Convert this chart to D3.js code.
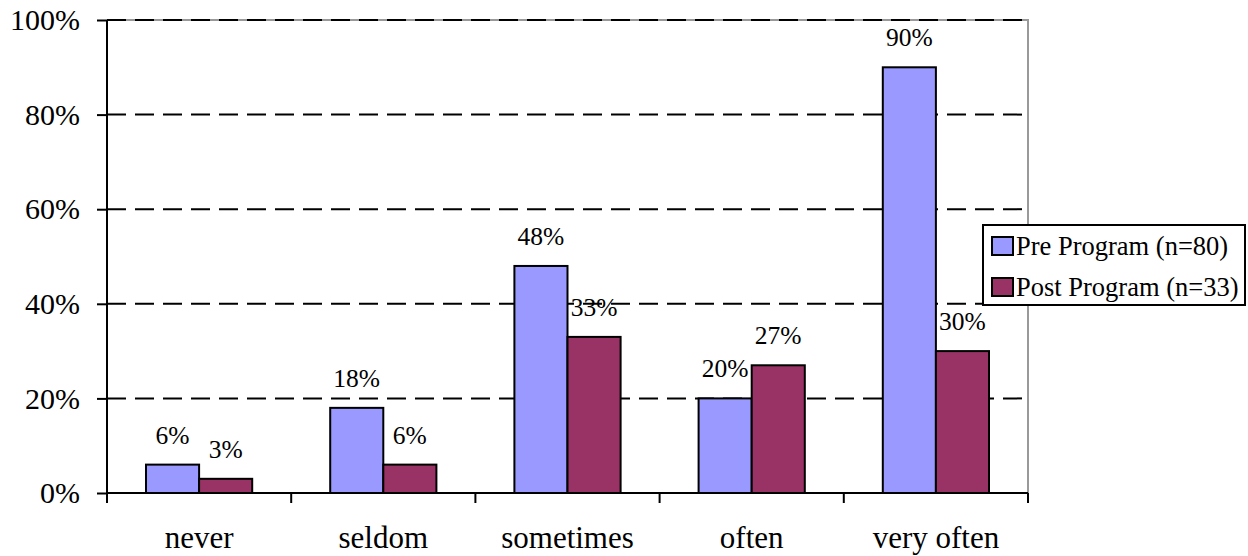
<!DOCTYPE html>
<html>
<head>
<meta charset="utf-8">
<script src="https://cdn.jsdelivr.net/npm/d3@7"></script>
<style>
  body { margin: 0; background: #fff; }
</style>
</head>
<body>
<div id="chart"></div>
<script>
const categories = ['never', 'seldom', 'sometimes', 'often', 'very often'];
const seriesNames = ['Pre Program (n=80)', 'Post Program (n=33)'];
const preValues = [6, 18, 48, 20, 90];
const postValues = [3, 6, 33, 27, 30];
const yTicks = [0, 20, 40, 60, 80, 100];
const colors = ['#9999FF', '#993366'];

const FONT = 'Liberation Serif, Times New Roman, Times, DejaVu Serif, serif';
const width = 1248, height = 556;
const margin = { top: 20, left: 107 };
const plotW = 1028 - margin.left;
const plotH = 493 - margin.top;

const svg = d3.select('#chart').append('svg')
    .attr('width', width)
    .attr('height', height)
    .style('display', 'block')
    .attr('font-family', FONT);

const g = svg.append('g').attr('transform', `translate(${margin.left},${margin.top})`);

const x = d3.scaleBand().domain(categories).range([0, plotW]);
const xInner = d3.scaleBand().domain([0, 1]).range([39, x.bandwidth() - 39]);
const y = d3.scaleLinear().domain([0, 100]).range([plotH, 0]);

// grey plot frame (top and right)
g.append('path')
    .attr('d', `M0,0H${plotW}V${plotH}`)
    .attr('fill', 'none')
    .attr('stroke', '#999')
    .attr('stroke-width', 2);

// dashed gridlines
g.selectAll('.grid').data(yTicks.filter(d => d > 0)).enter().append('line')
    .attr('x1', 0).attr('x2', plotW)
    .attr('y1', d => y(d)).attr('y2', d => y(d))
    .attr('stroke', '#000')
    .attr('stroke-width', 2)
    .attr('stroke-dasharray', '19,9');

// bars
const data = categories.map((c, i) => ({ cat: c, vals: [preValues[i], postValues[i]] }));
const groups = g.selectAll('.grp').data(data).enter().append('g')
    .attr('transform', d => `translate(${x(d.cat)},0)`);

groups.selectAll('rect').data(d => d.vals).enter().append('rect')
    .attr('x', (d, i) => xInner(i))
    .attr('y', d => y(d))
    .attr('width', xInner.bandwidth())
    .attr('height', d => plotH - y(d))
    .attr('fill', (d, i) => colors[i])
    .attr('stroke', '#000')
    .attr('stroke-width', 2);

groups.selectAll('text').data(d => d.vals).enter().append('text')
    .attr('x', (d, i) => xInner(i) + xInner.bandwidth() / 2)
    .attr('y', d => y(d) - 21)
    .attr('text-anchor', 'middle')
    .attr('font-size', 25.5)
    .text(d => d + '%');

// axes
const yAxis = g.append('g')
    .call(d3.axisLeft(y).tickValues(yTicks).tickFormat(d => d + '%').tickSize(10).tickPadding(17));
const xAxis = g.append('g')
    .attr('transform', `translate(0,${plotH})`)
    .call(d3.axisBottom(x).tickSize(0).tickPadding(33));

// bottom tick marks at band edges
g.selectAll('.xtick').data(d3.range(categories.length + 1)).enter().append('line')
    .attr('x1', d => d * x.step()).attr('x2', d => d * x.step())
    .attr('y1', plotH).attr('y2', plotH + 10)
    .attr('stroke', '#000').attr('stroke-width', 2);

[yAxis, xAxis].forEach(a => {
    a.attr('font-family', FONT);
    a.select('.domain').attr('stroke', '#000').attr('stroke-width', 2);
    a.selectAll('.tick line').attr('stroke', '#000').attr('stroke-width', 2);
    a.selectAll('text').attr('fill', '#000');
});
yAxis.attr('font-size', 30);
xAxis.attr('font-size', 31);
xAxis.select('.domain').attr('d', `M0,0H${plotW}`);
yAxis.select('.domain').attr('d', `M0,0V${plotH}`);

// legend
const legend = svg.append('g').attr('transform', 'translate(983,225)');
legend.append('rect')
    .attr('width', 262).attr('height', 80)
    .attr('fill', '#fff').attr('stroke', '#000').attr('stroke-width', 2);
const items = legend.selectAll('.item').data(seriesNames).enter().append('g')
    .attr('transform', (d, i) => `translate(9,${12 + i * 41})`);
items.append('rect')
    .attr('width', 21).attr('height', 18)
    .attr('fill', (d, i) => colors[i])
    .attr('stroke', '#000').attr('stroke-width', 2);
items.append('text')
    .attr('x', 24).attr('y', 18)
    .attr('font-size', 26.5)
    .text(d => d);
</script>
</body>
</html>
